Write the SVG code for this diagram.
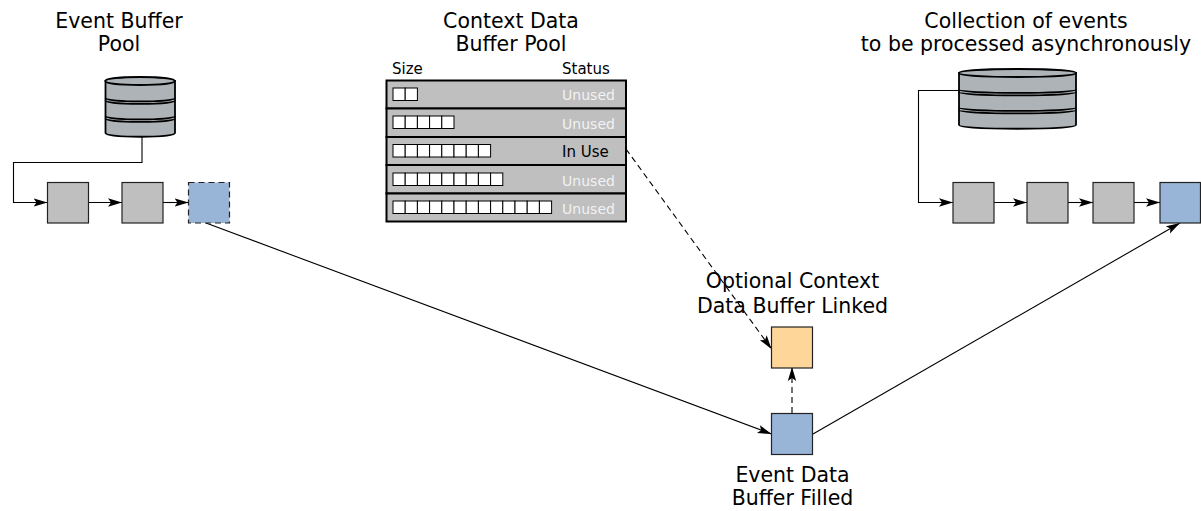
<svg xmlns="http://www.w3.org/2000/svg" width="1201" height="511" viewBox="0 0 1201 511">
<style>
text{font-family:"DejaVu Sans",Verdana,sans-serif;fill:#000}
.t{font-size:20.500px;text-anchor:middle}
.s{font-size:15px}
.st{font-size:14px;text-anchor:middle}
.w{fill:#f2f2f2}
.box{stroke:#222;stroke-width:1.2}
.g{fill:#bfbfbf}.b{fill:#98b4d6}.o{fill:#ffd699}
.row{fill:#bfbfbf;stroke:#000;stroke-width:2}
.cell{fill:#fff;stroke:#000;stroke-width:1}
.cyl{fill:#adb3b7;stroke:#000;stroke-width:1.8}
.c{fill:none;stroke:#000;stroke-width:1.1}
.d{stroke-dasharray:6 4}
</style>
<defs>
<marker id="a" markerWidth="16" markerHeight="10" refX="14" refY="5" orient="auto" markerUnits="userSpaceOnUse"><path d="M0 .8L14 5L0 9.200L3 5Z" fill="#000"/></marker>
<g id="cell"><rect class="cell" width="12.2" height="12.5"/></g>
</defs>

<g id="connectors">
<path class="c" d="M142 137V162.500H13.500V202.500H47.500" marker-end="url(#a)"/>
<path class="c" d="M88.500 202.500H122" marker-end="url(#a)"/>
<path class="c" d="M163 202.500H188.500" marker-end="url(#a)"/>
<path class="c" d="M959 90.500H918.500V202.500H953" marker-end="url(#a)"/>
<path class="c" d="M994 202.500H1027" marker-end="url(#a)"/>
<path class="c" d="M1068 202.500H1093" marker-end="url(#a)"/>
<path class="c" d="M1134 202.500H1160" marker-end="url(#a)"/>
<path class="c" d="M206 223L771.500 434" marker-end="url(#a)"/>
<path class="c" d="M813 434L1180 223" marker-end="url(#a)"/>
<path class="c d" d="M626 149L771.500 349" marker-end="url(#a)"/>
<path class="c d" d="M792 413V367" marker-end="url(#a)" style="stroke-width:1.500px;stroke:#444"/>
</g>

<g id="event-pool-label"><text class="t" x="119" y="28">Event Buffer</text><text class="t" x="119" y="51">Pool</text></g>
<g id="event-pool-cylinder">
<path class="cyl" d="M105.500 81V133C105.500 138 175 138 175 133V81Z"/>
<ellipse class="cyl" cx="140" cy="81" rx="34.700" ry="4"/>
<path class="cyl" style="fill:none" d="M105.500 98C105.500 102.500 175 102.500 175 98M105.500 100.500C105.500 105 175 105 175 100.500M105.500 116C105.500 120.500 175 120.500 175 116M105.500 118.500C105.500 123 175 123 175 118.500"/>
</g>
<g id="e1"><rect class="box g" x="47.500" y="182.500" width="41" height="40.500"/></g>
<g id="e2"><rect class="box g" x="122" y="182.500" width="41" height="40.500"/></g>
<g id="e3"><rect class="box b d" x="188.500" y="182.500" width="41" height="40.500"/></g>

<g id="context-label"><text class="t" x="511" y="28">Context Data</text><text class="t" x="511" y="51">Buffer Pool</text></g>
<g id="context-table">
<text class="s" x="392" y="74">Size</text><text class="s" x="562" y="74">Status</text>
<rect class="row" x="386.500" y="80.500" width="239.500" height="28"/>
<rect class="row" x="386.500" y="108.500" width="239.500" height="28.500"/>
<rect class="row" x="386.500" y="137" width="239.500" height="28"/>
<rect class="row" x="386.500" y="165" width="239.500" height="28.500"/>
<rect class="row" x="386.500" y="193.500" width="239.500" height="28"/>
<g id="r1"><use href="#cell" x="393" y="88"/><use href="#cell" x="405.200" y="88"/></g>
<g id="r2"><use href="#cell" x="393" y="116"/><use href="#cell" x="405.200" y="116"/><use href="#cell" x="417.400" y="116"/><use href="#cell" x="429.600" y="116"/><use href="#cell" x="441.800" y="116"/></g>
<g id="r3"><use href="#cell" x="393" y="144.500"/><use href="#cell" x="405.200" y="144.500"/><use href="#cell" x="417.400" y="144.500"/><use href="#cell" x="429.600" y="144.500"/><use href="#cell" x="441.800" y="144.500"/><use href="#cell" x="454" y="144.500"/><use href="#cell" x="466.200" y="144.500"/><use href="#cell" x="478.400" y="144.500"/></g>
<g id="r4"><use href="#cell" x="393" y="173"/><use href="#cell" x="405.200" y="173"/><use href="#cell" x="417.400" y="173"/><use href="#cell" x="429.600" y="173"/><use href="#cell" x="441.800" y="173"/><use href="#cell" x="454" y="173"/><use href="#cell" x="466.200" y="173"/><use href="#cell" x="478.400" y="173"/><use href="#cell" x="490.600" y="173"/></g>
<g id="r5"><use href="#cell" x="393" y="201"/><use href="#cell" x="405.200" y="201"/><use href="#cell" x="417.400" y="201"/><use href="#cell" x="429.600" y="201"/><use href="#cell" x="441.800" y="201"/><use href="#cell" x="454" y="201"/><use href="#cell" x="466.200" y="201"/><use href="#cell" x="478.400" y="201"/><use href="#cell" x="490.600" y="201"/><use href="#cell" x="502.800" y="201"/><use href="#cell" x="515" y="201"/><use href="#cell" x="527.200" y="201"/><use href="#cell" x="539.400" y="201"/></g>
<text class="st w" x="588.500" y="100">Unused</text>
<text class="st w" x="588.500" y="129">Unused</text>
<text class="s" x="562" y="157">In Use</text>
<text class="st w" x="588.500" y="185.500">Unused</text>
<text class="st w" x="588.500" y="214">Unused</text>
</g>

<g id="collection-label"><text class="t" x="1026" y="28">Collection of events</text><text class="t" x="1026" y="51">to be processed asynchronously</text></g>
<g id="collection-cylinder">
<path class="cyl" d="M959 73V125C959 130 1076 130 1076 125V73Z"/>
<ellipse class="cyl" cx="1017.500" cy="73" rx="58.500" ry="4"/>
<path class="cyl" style="fill:none" d="M959 89.500C959 94 1076 94 1076 89.500M959 92C959 96.500 1076 96.500 1076 92M959 107.500C959 112 1076 112 1076 107.500M959 110C959 114.500 1076 114.500 1076 110"/>
</g>
<g id="c1"><rect class="box g" x="953" y="182.500" width="41" height="40.500"/></g>
<g id="c2"><rect class="box g" x="1027" y="182.500" width="41" height="40.500"/></g>
<g id="c3"><rect class="box g" x="1093" y="182.500" width="41" height="40.500"/></g>
<g id="c4"><rect class="box b" x="1160" y="182.500" width="40.500" height="40.500"/></g>

<g id="optional"><text class="t" x="792.500" y="288">Optional Context</text><text class="t" x="792.500" y="313">Data Buffer Linked</text><rect class="box o" x="771.500" y="327" width="41" height="41"/></g>
<g id="filled"><rect class="box b" x="771.500" y="413.500" width="41" height="41"/><text class="t" x="792.500" y="482">Event Data</text><text class="t" x="792.500" y="505">Buffer Filled</text></g>
</svg>
